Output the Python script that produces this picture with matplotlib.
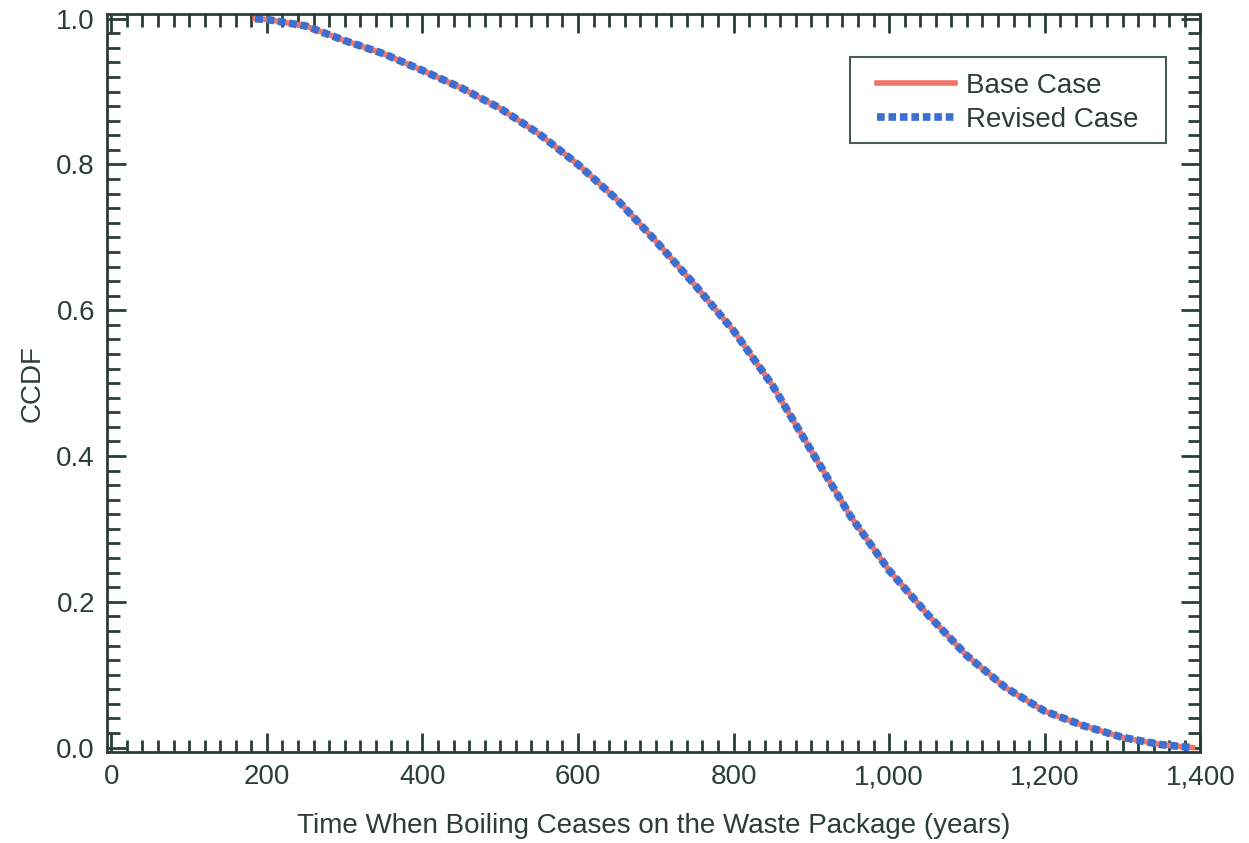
import numpy as np
import matplotlib.pyplot as plt
from matplotlib.patches import Rectangle
from matplotlib.ticker import MultipleLocator, FuncFormatter

plt.rcParams['font.family'] = ['Liberation Sans', 'DejaVu Sans']

# valeurs
t_base = [185, 200, 250, 300, 350, 400, 450, 500, 550, 600, 650, 700, 750, 800, 850,
          900, 950, 1000, 1050, 1100, 1150, 1200, 1250, 1300, 1350, 1390]
ccdf_base = [1.0, 0.999, 0.99, 0.97, 0.952, 0.929, 0.905, 0.877, 0.842, 0.80, 0.752,
             0.695, 0.635, 0.572, 0.497, 0.407, 0.318, 0.243, 0.182, 0.126, 0.082,
             0.05, 0.030, 0.014, 0.004, 0.0]
t_rev = t_base
ccdf_rev = ccdf_base

ink = '#2c3d38'

fig = plt.figure(figsize=(12.49, 8.43), dpi=100)
ax = fig.add_axes([0.086, 0.108, 0.875, 0.875])
ax.plot(t_base, ccdf_base, color='#f07565', lw=4, label='Base Case')
ax.plot(t_rev, ccdf_rev, color='#3b6fd2', lw=5.5, linestyle=(0, (1, 0.5)), label='Revised Case')

ax.set_xlim(-5, 1400)
ax.set_ylim(-0.006, 1.006)
ax.xaxis.set_major_locator(MultipleLocator(200))
ax.xaxis.set_minor_locator(MultipleLocator(20))
ax.yaxis.set_major_locator(MultipleLocator(0.2))
ax.yaxis.set_minor_locator(MultipleLocator(0.02))
ax.xaxis.set_major_formatter(FuncFormatter(lambda v, p: f"{int(v):,}"))
ax.yaxis.set_major_formatter(FuncFormatter(lambda v, p: f"{v:.1f}"))
ax.tick_params(which='both', direction='in', top=True, right=True, color=ink, width=2,
               labelsize=20, labelcolor=ink, pad=9)
ax.tick_params(which='major', length=14)
ax.tick_params(which='minor', length=9)
for s in ax.spines.values():
    s.set_color(ink)
    s.set_linewidth(2)

ax.set_xlabel("Time When Boiling Ceases on the Waste Package (years)", fontsize=20, color=ink, labelpad=16)
ax.set_ylabel("CCDF", fontsize=20, color=ink, labelpad=8)

# cadre de la legende dessine a part (marges horizontales plus larges)
ax.add_patch(Rectangle((0.6795, 0.8255), 0.9686 - 0.6795, 0.942 - 0.8255, transform=ax.transAxes,
                       facecolor='white', edgecolor='#4a5a58', lw=1.5, zorder=4))
leg = ax.legend(loc='upper left', bbox_to_anchor=(0.7042, 0.921), fontsize=20, handlelength=2.8,
                handletextpad=0.4, frameon=False, labelcolor=ink, borderpad=0, labelspacing=0.3,
                borderaxespad=0)
leg.set_zorder(5)

plt.savefig('out.png')
